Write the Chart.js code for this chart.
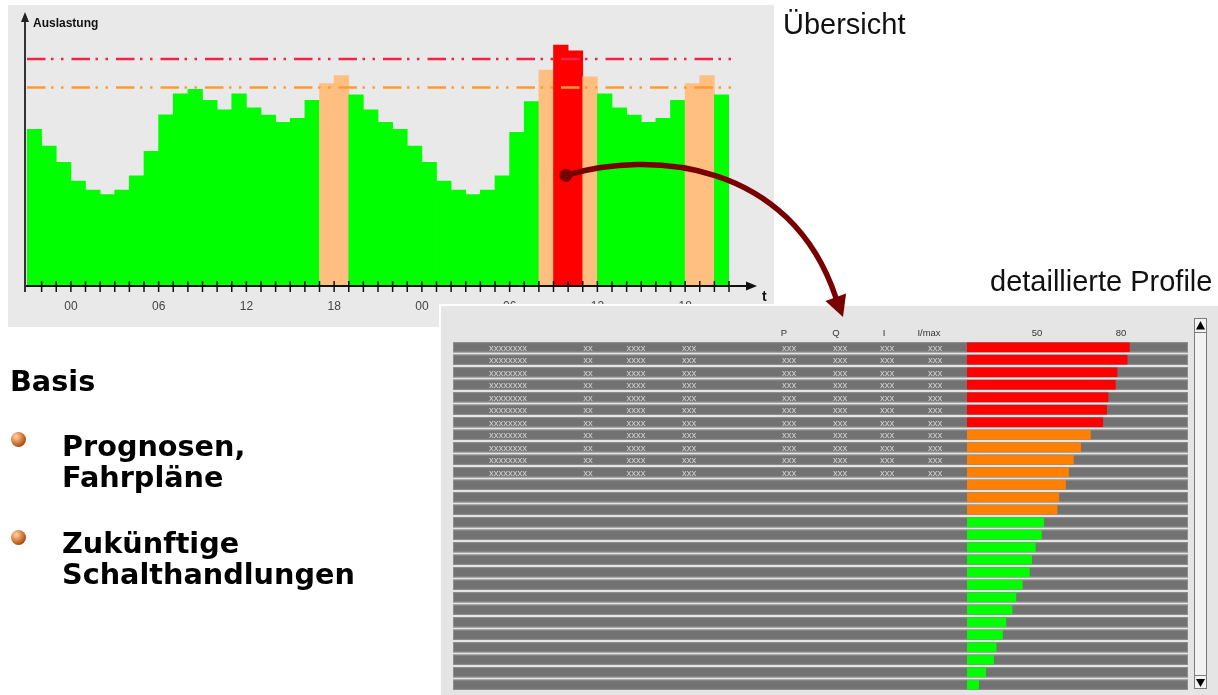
<!DOCTYPE html>
<html lang="de">
<head>
<meta charset="utf-8">
<title>Auslastung – Übersicht und Profile</title>
<script src="https://cdn.jsdelivr.net/npm/chart.js@4/dist/chart.umd.min.js"></script>
<style>
  html, body { margin: 0; padding: 0; background: #fff; }
  body { width: 1218px; height: 695px; position: relative; overflow: hidden; }
  canvas { position: absolute; left: 0; top: 0; }
  #uebersicht { z-index: 1; }
  #profile { z-index: 2; }
  .txt { position: absolute; z-index: 3; white-space: nowrap; }
  .titel { font-family: "Liberation Sans", Arial, sans-serif; font-size: 29px; line-height: 29px; color: #111; }
  .basis { font-family: "DejaVu Sans", Verdana, sans-serif; font-weight: bold; font-size: 28.7px; line-height: 31px; color: #000; }
  .kugel { position: absolute; z-index: 3; width: 15px; height: 15px; border-radius: 50%;
           background: radial-gradient(circle at 35% 32%, #ffd9b5 0%, #eb9a60 28%, #b8601f 62%, #5e2806 100%); }
</style>
</head>
<body>
<canvas id="uebersicht" width="1218" height="695"></canvas>
<canvas id="profile" width="1218" height="695"></canvas>

<div class="txt titel" style="left:783px; top:9.5px;">Übersicht</div>
<div class="txt titel" style="left:990px; top:266.8px;">detaillierte Profile</div>

<div class="txt basis" style="left:10px; top:366.3px;">Basis</div>
<div class="kugel" style="left:11px; top:432px;"></div>
<div class="txt basis" style="left:62px; top:430.6px;">Prognosen,<br>Fahrpläne</div>
<div class="kugel" style="left:11px; top:530px;"></div>
<div class="txt basis" style="left:62px; top:527.6px;">Zukünftige<br>Schalthandlungen</div>

<script>
// Stundenwerte der Übersicht (Beginn 21:00 Uhr, 48 Stunden)
const stunden = [21, 22, 23,
  0, 1, 2, 3, 4, 5, 6, 7, 8, 9, 10, 11, 12, 13, 14, 15, 16, 17, 18, 19, 20, 21, 22, 23,
  0, 1, 2, 3, 4, 5, 6, 7, 8, 9, 10, 11, 12, 13, 14, 15, 16, 17, 18, 19, 20];
const auslastung = [55.2, 49.3, 43.6,
  37.0, 33.8, 32.2, 33.8, 38.8, 47.5, 60.3, 67.7, 69.3, 65.4, 62.1, 67.7,
  62.8, 60.2, 57.7, 59.1, 65.4, 71.3, 74.2, 67.4, 62.1, 57.7, 55.2, 49.3,
  43.6, 37.0, 33.8, 32.2, 33.8, 38.8, 54.2, 65.0, 76.1, 84.9, 82.9, 73.7,
  67.7, 62.8, 60.2, 57.7, 59.1, 65.4, 71.3, 74.2, 67.4];
const grenzeRot = 80;
const grenzeOrange = 70;
const achsenTitel = 'Auslastung';
const zeitTitel = 't';

// Detaillierte Profile (sortiert nach Auslastung)
const profilZeilen = [1, 2, 3, 4, 5, 6, 7, 8, 9, 10, 11, 12, 13, 14,
  15, 16, 17, 18, 19, 20, 21, 22, 23, 24, 25, 26, 27, 28];
const profilWerte = [83.1, 82.3, 78.7, 78.1, 75.5, 75.0, 73.6,
  69.2, 65.7, 63.1, 61.4, 60.3, 57.9, 57.3,
  52.5, 51.7, 49.5, 48.2, 47.4, 44.9, 42.6, 41.2, 39.0, 37.8, 35.5, 34.6, 31.8, 29.3];
const profilGrenzeRot = 70;
const profilGrenzeOrange = 55;
const profilSkala = [50, 80];
const spaltenKoepfe = ['P', 'Q', 'I', 'I/max'];
const zellenText = ['xxxxxxxx', 'xx', 'xxxx', 'xxx', 'xxx', 'xxx', 'xxx', 'xxx'];
const zeilenMitText = 11;

// Layout
const kopfX = [784, 836, 884, 929];
const zellenX = [508, 588, 636, 689, 789, 840, 887, 935];
const zeileLinks = 453, zeileRechts = 1188;

const farbeUebersicht = v => v >= grenzeRot ? '#ff0000' : v >= grenzeOrange ? '#ffbf80' : '#00ff00';
const farbeProfil = v => v >= profilGrenzeRot ? '#ff0000' : v >= profilGrenzeOrange ? '#ff8000' : '#00ff00';

const basisOptionen = {
  responsive: false,
  devicePixelRatio: 1,
  animation: false,
  events: [],
  plugins: { legend: { display: false }, tooltip: { enabled: false }, title: { display: false } }
};

const uebersichtDeko = {
  id: 'uebersichtDeko',
  beforeDraw(chart) {
    const ctx = chart.ctx;
    ctx.save();
    ctx.fillStyle = '#e9e9e9';
    ctx.fillRect(8, 5, 766, 322);
    ctx.restore();
  },
  afterDatasetsDraw(chart) {
    const { ctx, chartArea: a, scales: { x, y } } = chart;
    ctx.save();
    // Grenzwerte als Strich-Punkt-Punkt-Linien
    ctx.lineWidth = 2.5;
    ctx.setLineDash([18.5, 5.5, 2.5, 7.5, 2.5, 8]);
    [[grenzeRot, '#f5234a'], [grenzeOrange, '#ff9a30']].forEach(([wert, farbe]) => {
      const yy = y.getPixelForValue(wert);
      ctx.strokeStyle = farbe;
      ctx.beginPath();
      ctx.moveTo(a.left, yy);
      ctx.lineTo(a.right + 6, yy);
      ctx.stroke();
    });
    ctx.setLineDash([]);

    const y0 = y.getPixelForValue(0);
    ctx.strokeStyle = '#111';
    ctx.fillStyle = '#111';
    // Zeitachse mit Pfeil
    const xe = a.right + 28;
    ctx.lineWidth = 2;
    ctx.beginPath();
    ctx.moveTo(a.left - 3, y0);
    ctx.lineTo(xe - 6, y0);
    ctx.stroke();
    ctx.beginPath();
    ctx.moveTo(xe, y0);
    ctx.lineTo(xe - 11, y0 - 4.5);
    ctx.lineTo(xe - 11, y0 + 4.5);
    ctx.closePath();
    ctx.fill();
    // Werteachse mit Pfeil
    const xa = a.left - 2;
    ctx.strokeStyle = '#333';
    ctx.fillStyle = '#222';
    ctx.beginPath();
    ctx.moveTo(xa, y0 + 6);
    ctx.lineTo(xa, 19);
    ctx.stroke();
    ctx.beginPath();
    ctx.moveTo(xa, 12);
    ctx.lineTo(xa - 4, 22);
    ctx.lineTo(xa + 4, 22);
    ctx.closePath();
    ctx.fill();
    // Stundenstriche
    ctx.strokeStyle = '#111';
    ctx.lineWidth = 1.5;
    for (let i = 1; i <= stunden.length; i++) {
      const xx = x.getPixelForValue(i - 0.5);
      ctx.beginPath();
      ctx.moveTo(xx, y0 - 5);
      ctx.lineTo(xx, y0 + 6);
      ctx.stroke();
    }
    // Uhrzeiten alle 6 Stunden
    ctx.font = '12px "Liberation Sans", Arial, sans-serif';
    ctx.fillStyle = '#444';
    ctx.textAlign = 'center';
    ctx.textBaseline = 'middle';
    stunden.forEach((h, i) => {
      if (h % 6 === 0) ctx.fillText(String(h).padStart(2, '0'), x.getPixelForValue(i - 0.5), y0 + 21);
    });
    // Achsentitel
    ctx.fillStyle = '#111';
    ctx.textAlign = 'left';
    ctx.font = 'bold 12px "Liberation Sans", Arial, sans-serif';
    ctx.fillText(achsenTitel, a.left + 6, 24);
    ctx.font = 'bold 14px "Liberation Sans", Arial, sans-serif';
    ctx.fillText(zeitTitel, xe + 5, y0 + 11);
    ctx.restore();
  }
};

const uebersicht = new Chart(document.getElementById('uebersicht'), {
  type: 'bar',
  data: {
    labels: stunden.map(h => String(h).padStart(2, '0')),
    datasets: [{
      data: auslastung,
      backgroundColor: auslastung.map(farbeUebersicht),
      borderWidth: 0,
      barPercentage: 1,
      categoryPercentage: 1
    }]
  },
  options: {
    ...basisOptionen,
    layout: { padding: { left: 27, right: 489, top: 2.25, bottom: 409 } },
    scales: {
      x: { display: false, offset: true },
      y: { display: false, min: 0, max: 100 }
    }
  },
  plugins: [uebersichtDeko]
});

const profilDeko = {
  id: 'profilDeko',
  beforeDraw(chart) {
    const ctx = chart.ctx;
    ctx.save();
    ctx.fillStyle = '#ffffff';
    ctx.fillRect(439, 304, 779, 391);
    ctx.fillStyle = '#e5e5e5';
    ctx.fillRect(441, 306, 777, 389);
    ctx.restore();
  },
  beforeDatasetsDraw(chart) {
    const { ctx, scales: { x, y } } = chart;
    const teilung = y.getPixelForValue(1) - y.getPixelForValue(0);
    const h = teilung * 0.82;
    ctx.save();
    // Zeilenhintergrund
    profilWerte.forEach((v, i) => {
      const yc = y.getPixelForValue(i);
      ctx.fillStyle = '#727272';
      ctx.fillRect(zeileLinks, yc - h / 2, zeileRechts - zeileLinks, h);
      ctx.strokeStyle = '#8e8e8e';
      ctx.lineWidth = 1;
      ctx.strokeRect(zeileLinks + 0.5, yc - h / 2 + 0.5, zeileRechts - zeileLinks - 1, h - 1);
    });
    // Spaltenköpfe und Skala
    ctx.font = '9.5px "Liberation Sans", Arial, sans-serif';
    ctx.fillStyle = '#333';
    ctx.textAlign = 'center';
    ctx.textBaseline = 'middle';
    const kopfY = y.getPixelForValue(0) - teilung * 1.15;
    spaltenKoepfe.forEach((t, k) => ctx.fillText(t, kopfX[k], kopfY));
    profilSkala.forEach(w => ctx.fillText(String(w), x.getPixelForValue(w), kopfY));
    // Zelleninhalte
    ctx.font = '9.5px "Liberation Sans", Arial, sans-serif';
    ctx.fillStyle = '#d6d6d6';
    for (let i = 0; i < zeilenMitText; i++) {
      const yc = y.getPixelForValue(i) + 1;
      zellenText.forEach((t, k) => ctx.fillText(t, zellenX[k], yc));
    }
    ctx.restore();
  },
  afterDraw(chart) {
    const ctx = chart.ctx;
    ctx.save();
    // Bildlaufleiste
    ctx.fillStyle = '#f3f3f3';
    ctx.strokeStyle = '#7c7c7c';
    ctx.lineWidth = 1;
    ctx.fillRect(1194, 318, 13, 371);
    ctx.strokeRect(1194.5, 318.5, 12, 370);
    ctx.strokeRect(1194.5, 318.5, 12, 14);
    ctx.strokeRect(1194.5, 675.5, 12, 13);
    ctx.fillStyle = '#000';
    ctx.beginPath();
    ctx.moveTo(1200.5, 321); ctx.lineTo(1196, 329.5); ctx.lineTo(1205, 329.5); ctx.closePath(); ctx.fill();
    ctx.beginPath();
    ctx.moveTo(1196, 679); ctx.lineTo(1205, 679); ctx.lineTo(1200.5, 687); ctx.closePath(); ctx.fill();

    // Verweispfeil von der Spitzenlast in die Profile
    const ux = uebersicht.scales.x, uy = uebersicht.scales.y;
    const spitze = auslastung.indexOf(Math.max(...auslastung));
    const sx = ux.getPixelForValue(spitze + 0.35);
    const sy = uy.getPixelForValue(39);
    const ex = 836, ey = 298, tx = 843, ty = 317;
    ctx.strokeStyle = '#780000';
    ctx.fillStyle = '#780000';
    ctx.lineWidth = 5.5;
    ctx.lineCap = 'round';
    ctx.beginPath();
    ctx.moveTo(sx, sy);
    ctx.bezierCurveTo(sx + 84, sy - 25, 790, 160, ex, ey);
    ctx.stroke();
    ctx.beginPath();
    ctx.arc(sx, sy, 6.5, 0, Math.PI * 2);
    ctx.fill();
    const dx = tx - ex, dy = ty - ey, len = Math.hypot(dx, dy);
    const ux2 = dx / len, uy2 = dy / len;
    const bx = tx - ux2 * 21, by = ty - uy2 * 21;
    ctx.beginPath();
    ctx.moveTo(tx, ty);
    ctx.lineTo(bx + uy2 * 11, by - ux2 * 11);
    ctx.lineTo(bx - uy2 * 11, by + ux2 * 11);
    ctx.closePath();
    ctx.fill();
    ctx.restore();
  }
};

new Chart(document.getElementById('profile'), {
  type: 'bar',
  data: {
    labels: profilZeilen,
    datasets: [{
      data: profilWerte,
      backgroundColor: profilWerte.map(farbeProfil),
      borderWidth: 0,
      barPercentage: 0.75,
      categoryPercentage: 1
    }]
  },
  options: {
    ...basisOptionen,
    indexAxis: 'y',
    layout: { padding: { left: 967, right: 41, top: 341, bottom: 4 } },
    scales: {
      x: { display: false, min: 25, max: 100 },
      y: { display: false, offset: true }
    }
  },
  plugins: [profilDeko]
});
</script>
</body>
</html>
